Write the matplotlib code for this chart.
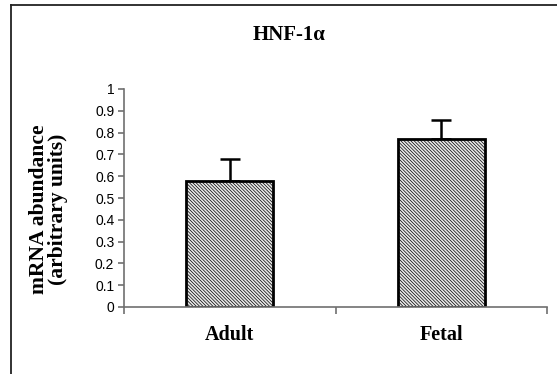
import matplotlib.pyplot as plt
from matplotlib.lines import Line2D
import numpy as np

plt.rcParams['hatch.linewidth'] = 0.5
plt.rcParams['hatch.color'] = '#3a3a3a'

# data
groups = ['Adult', 'Fetal']
abundance = [0.58, 0.77]
sem = [0.10, 0.09]
yticks = np.arange(0, 1.01, 0.1)
ytick_labels = ['0', '0.1', '0.2', '0.3', '0.4', '0.5', '0.6', '0.7', '0.8', '0.9', '1']

fig = plt.figure(figsize=(5.57, 3.74), dpi=100)
ax = fig.add_axes([124 / 557, 1 - 307 / 374, (547 - 124) / 557, (307 - 89) / 374])

x = np.arange(len(groups))
ax.bar(x, abundance, width=0.41, color='#e8e8e8', edgecolor='black',
       linewidth=2, hatch='\\\\\\\\\\\\\\\\\\\\', zorder=2)
ax.errorbar(x, abundance, yerr=[[0, 0], sem], fmt='none', ecolor='black',
            elinewidth=1.8, capsize=7, capthick=1.8, zorder=1)

ax.set_xlim(-0.5, 1.5)
ax.set_ylim(0, 1)
ax.set_yticks(yticks)
ax.set_yticklabels(ytick_labels, family='Liberation Sans', fontsize=10)
ax.set_xticks([-0.5, 0.5, 1.5])
ax.set_xticklabels([])
ax.set_xticks(x, minor=True)
ax.set_xticklabels(groups, minor=True, family='Liberation Serif',
                   fontweight='bold', fontsize=14.5)
ax.tick_params(axis='x', which='minor', length=0, pad=13)
ax.tick_params(axis='x', which='major', length=5, color='#707070', width=1.2)
ax.tick_params(axis='y', length=4, color='#707070', width=1.2, pad=3)

for s in ['top', 'right']:
    ax.spines[s].set_visible(False)
for s in ['left', 'bottom']:
    ax.spines[s].set_color('#707070')
    ax.spines[s].set_linewidth(1.2)

fig.text(289 / 557, 1 - 35.5 / 374, 'HNF-1α', ha='center', va='center',
         family='Liberation Serif', fontweight='bold', fontsize=15)
fig.text(48.5 / 557, 1 - 209 / 374, 'mRNA abundance\n(arbitrary units)',
         ha='center', va='center', rotation=90, multialignment='center',
         family='Liberation Serif', fontweight='bold', fontsize=15.5,
         linespacing=1.0)

# outer frame (only top and left edges are inside the picture)
fx, fy = 11 / 557, 1 - 5 / 374
fig.add_artist(Line2D([fx, 1.05], [fy, fy], transform=fig.transFigure,
                      color='#222222', linewidth=1.3))
fig.add_artist(Line2D([fx, fx], [-0.05, fy], transform=fig.transFigure,
                      color='#222222', linewidth=1.3))

fig.savefig('out.png', dpi=100)
plt.close()
